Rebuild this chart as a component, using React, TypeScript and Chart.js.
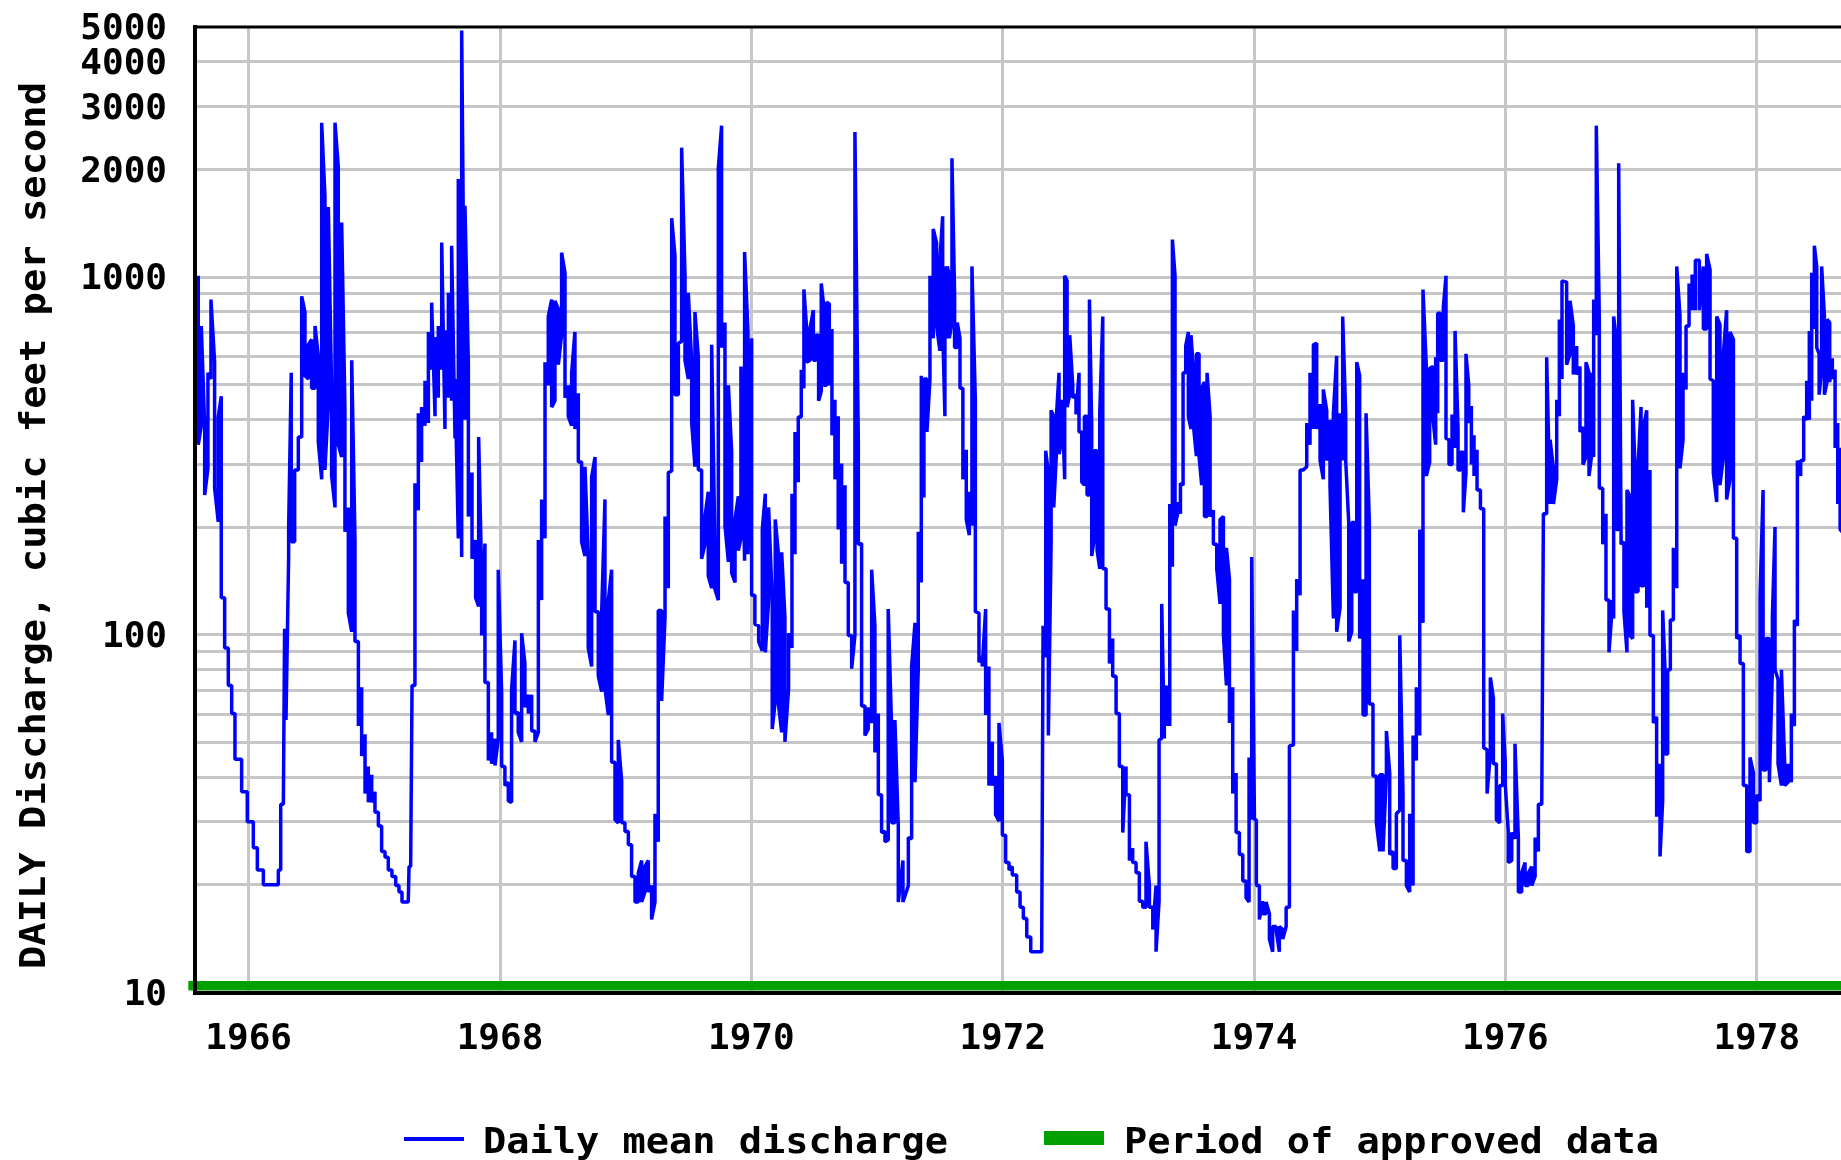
import React, { useEffect, useRef } from 'react';
import { Chart, registerables } from 'chart.js';

Chart.register(...registerables);

type Reading = [number, number]; // [decimal year, daily mean discharge in ft³/s]

const flow1965to1967: Reading[] = [
  [1965.599,1008],[1965.599,340],[1965.623,384],[1965.623,730],[1965.650,384],[1965.650,246],
  [1965.676,292],[1965.676,540],[1965.700,519],[1965.700,865],[1965.729,578],[1965.729,257],
  [1965.758,207],[1965.758,406],[1965.782,464],[1965.782,127],[1965.809,127],[1965.809,91.9],
  [1965.838,91.9],[1965.838,72.2],[1965.865,72.2],[1965.865,60.2],[1965.891,60.2],[1965.891,44.9],
  [1965.944,44.9],[1965.944,36.4],[1965.989,36.4],[1965.989,30.0],[1966.037,30.0],[1966.037,25.4],
  [1966.069,25.4],[1966.069,22.0],[1966.117,22.0],[1966.117,20.0],[1966.236,20.0],[1966.236,22.0],
  [1966.255,22.0],[1966.255,33.6],[1966.276,33.6],[1966.286,104],[1966.297,57.8],
  [1966.318,165],[1966.318,198],[1966.339,540],[1966.339,182],[1966.366,182],[1966.366,289],
  [1966.395,289],[1966.395,357],[1966.422,357],[1966.422,883],[1966.448,798],[1966.448,530],
  [1966.475,519],[1966.475,647],[1966.501,669],[1966.501,489],[1966.528,489],[1966.528,730],
  [1966.554,602],[1966.554,347],[1966.581,272],[1966.581,2700],[1966.607,1681],[1966.607,289],
  [1966.634,442],[1966.634,1570],[1966.660,485],[1966.660,278],[1966.687,227],[1966.687,2700],
  [1966.713,2040],[1966.713,340],[1966.740,314],[1966.740,1420],[1966.766,433],[1966.766,194],
  [1966.793,227],[1966.793,115],[1966.820,102],[1966.820,585],[1966.846,184],[1966.846,95.7],
  [1966.873,95.7],[1966.873,55.6],[1966.899,71.3],[1966.899,45.8],[1966.926,52.7],[1966.926,36.0],
  [1966.952,42.8],[1966.952,34.0],[1966.979,40.6],[1966.979,34.0],[1967.005,36.4],[1967.005,31.9],
  [1967.032,31.9],[1967.032,29.2],[1967.058,29.2],[1967.058,24.8],[1967.085,24.8],[1967.085,23.9],
  [1967.111,23.9],[1967.111,22.0],[1967.140,22.0],[1967.140,21.1],[1967.170,21.1],[1967.170,19.9],
  [1967.196,19.9],[1967.196,19.1],[1967.220,19.1],[1967.220,17.9],[1967.270,17.9],[1967.276,22.5],
  [1967.289,22.5],[1967.300,72.2],[1967.323,72.2],[1967.323,265],[1967.350,223],[1967.350,416],
  [1967.376,304],[1967.376,433],[1967.403,384],[1967.403,513],[1967.430,391],[1967.430,702],
  [1967.456,551],[1967.456,848],[1967.483,408],[1967.483,680],[1967.509,460],[1967.509,730],
  [1967.536,551],[1967.536,1248],[1967.562,376],[1967.562,710],[1967.589,460],[1967.589,904],
  [1967.615,451],[1967.615,1223],[1967.642,354],[1967.642,519],[1967.668,186],[1967.668,1880],
  [1967.695,165],[1967.695,4890],[1967.721,399],[1967.721,1582],
];

const flow1967to1969: Reading[] = [
  [1967.748,574],[1967.748,214],[1967.777,284],[1967.777,163],[1967.806,184],[1967.806,127],
  [1967.830,120],[1967.830,357],[1967.854,146],[1967.854,99.6],[1967.880,180],[1967.880,73.6],
  [1967.907,73.6],[1967.907,44.5],[1967.933,53.4],[1967.933,43.6],[1967.960,51.3],[1967.960,43.1],
  [1967.986,51.3],[1967.986,152],[1968.013,68.5],[1968.013,42.8],[1968.039,42.8],[1968.039,37.9],
  [1968.066,38.7],[1968.066,34.3],[1968.092,34.0],[1968.092,70.2],[1968.119,96.4],[1968.119,60.2],
  [1968.145,60.7],[1968.145,53.4],[1968.172,50.2],[1968.172,101],[1968.198,83.1],[1968.198,62.7],
  [1968.225,68.0],[1968.225,60.2],[1968.252,68.0],[1968.252,53.8],[1968.278,53.8],[1968.278,50.2],
  [1968.305,53.4],[1968.305,184],[1968.331,125],[1968.331,239],[1968.358,186],[1968.358,578],
  [1968.384,498],[1968.384,776],[1968.411,865],[1968.411,433],[1968.437,451],[1968.437,858],
  [1968.464,814],[1968.464,569],[1968.490,688],[1968.490,1170],[1968.517,1028],[1968.517,460],
  [1968.543,498],[1968.543,408],[1968.570,384],[1968.570,540],[1968.596,702],[1968.596,376],
  [1968.623,473],[1968.623,304],[1968.649,304],[1968.649,182],[1968.676,166],[1968.676,295],
  [1968.702,166],[1968.702,91.9],[1968.729,81.5],[1968.729,276],[1968.756,314],[1968.756,116],
  [1968.782,116],[1968.782,76.6],[1968.809,69.3],[1968.809,116],[1968.835,239],[1968.835,70.7],
  [1968.862,59.7],[1968.862,125],[1968.888,152],[1968.888,44.0],[1968.915,44.0],[1968.915,30.4],
  [1968.941,29.8],[1968.941,50.8],[1968.968,39.0],[1968.968,29.8],[1968.994,29.8],[1968.994,28.2],
  [1969.021,28.2],[1969.021,25.9],[1969.047,25.9],[1969.047,21.1],[1969.074,21.1],[1969.074,17.9],
  [1969.100,17.9],[1969.100,21.6],[1969.127,23.4],[1969.127,17.9],[1969.153,19.1],[1969.153,22.5],
  [1969.180,23.4],[1969.180,19.1],[1969.206,19.9],[1969.206,16.0],[1969.233,17.9],[1969.233,31.6],
  [1969.259,26.4],[1969.259,117],[1969.286,117],[1969.286,65.3],[1969.313,112],[1969.313,214],
  [1969.339,135],[1969.339,284],[1969.366,287],[1969.366,1460],[1969.392,1147],[1969.392,469],
  [1969.419,469],[1969.419,653],[1969.445,661],[1969.445,2300],[1969.472,1008],[1969.472,585],
  [1969.498,519],[1969.498,904],[1969.525,578],[1969.525,391],[1969.551,295],[1969.551,798],
  [1969.578,597],[1969.578,289],[1969.604,289],[1969.604,163],[1969.631,179],[1969.631,214],
  [1969.657,251],[1969.657,146],[1969.684,135],[1969.684,647],[1969.710,177],[1969.710,134],
  [1969.737,125],[1969.737,2015],[1969.763,2650],[1969.763,635],[1969.790,746],[1969.790,202],
  [1969.817,160],[1969.817,498],[1969.843,324],[1969.843,149],[1969.870,140],[1969.870,210],
  [1969.896,244],[1969.896,172],
];

const flow1969to1972: Reading[] = [
  [1969.917,186],[1969.917,562],[1969.946,161],[1969.946,1175],[1969.973,702],[1969.973,168],
  [1970.002,674],[1970.002,129],[1970.028,129],[1970.028,107],[1970.058,106],[1970.058,95.7],
  [1970.087,90.1],[1970.087,197],[1970.111,248],[1970.111,89.3],[1970.137,124],[1970.137,227],
  [1970.166,125],[1970.166,54.5],[1970.190,65.3],[1970.190,210],[1970.214,170],[1970.214,64.7],
  [1970.241,53.4],[1970.241,170],[1970.267,112],[1970.267,50.2],[1970.296,70.7],[1970.296,101],
  [1970.323,91.9],[1970.323,248],[1970.347,168],[1970.347,369],[1970.373,267],[1970.373,406],
  [1970.397,406],[1970.397,551],[1970.418,489],[1970.418,923],[1970.440,716],[1970.440,578],
  [1970.466,585],[1970.466,716],[1970.493,808],[1970.493,585],[1970.514,585],[1970.514,688],
  [1970.535,688],[1970.535,451],[1970.556,479],[1970.556,960],[1970.577,824],[1970.577,498],
  [1970.599,498],[1970.599,851],[1970.620,841],[1970.620,498],[1970.641,716],[1970.641,361],
  [1970.665,454],[1970.665,272],[1970.691,408],[1970.691,197],[1970.718,301],[1970.718,158],
  [1970.745,262],[1970.745,140],[1970.771,140],[1970.771,99.6],[1970.798,99.6],[1970.798,80.4],
  [1970.824,99.6],[1970.824,2545],[1970.851,343],[1970.851,179],[1970.877,180],[1970.877,63.2],
  [1970.904,63.2],[1970.904,52.3],[1970.930,54.5],[1970.930,62.7],[1970.957,56.7],[1970.957,152],
  [1970.983,106],[1970.983,46.9],[1971.010,60.2],[1971.010,35.7],[1971.036,35.7],[1971.036,28.0],
  [1971.063,28.2],[1971.063,26.4],[1971.089,26.7],[1971.089,118],[1971.116,54.5],[1971.116,29.8],
  [1971.142,29.8],[1971.142,57.8],[1971.169,29.2],[1971.169,17.9],[1971.206,23.4],[1971.206,17.9],
  [1971.249,19.9],[1971.249,27.1],[1971.275,26.9],[1971.275,81.5],[1971.302,108],[1971.302,38.7],
  [1971.328,80.4],[1971.328,194],[1971.352,140],[1971.352,530],[1971.373,242],[1971.373,519],
  [1971.397,519],[1971.397,369],[1971.421,519],[1971.421,1008],[1971.447,674],[1971.447,1363],
  [1971.474,1243],[1971.474,730],[1971.500,622],[1971.500,1115],[1971.522,1478],[1971.522,730],
  [1971.540,408],[1971.540,1071],[1971.559,674],[1971.559,1071],[1971.575,1008],[1971.575,674],
  [1971.596,746],[1971.596,2149],[1971.617,893],[1971.617,635],[1971.638,635],[1971.638,746],
  [1971.660,674],[1971.660,489],[1971.683,489],[1971.683,272],[1971.710,329],[1971.710,210],
  [1971.734,190],[1971.734,251],[1971.755,202],[1971.755,1071],[1971.782,454],[1971.782,116],
  [1971.811,115],[1971.811,83.8],[1971.837,87.2],[1971.837,81.5],[1971.864,118],[1971.864,59.7],
  [1971.890,81.5],[1971.890,37.9],[1971.917,50.2],[1971.917,37.9],[1971.943,40.3],[1971.943,31.4],
  [1971.970,30.1],[1971.970,56.7],[1971.997,44.5],[1971.997,27.5],[1972.023,27.5],[1972.023,23.1],
  [1972.050,23.1],[1972.050,22.0],[1972.076,22.5],[1972.076,21.3],
];

const flow1972to1974: Reading[] = [
  [1972.111,21.3],[1972.111,19.1],[1972.138,19.1],[1972.138,17.3],[1972.164,17.3],[1972.164,16.1],
  [1972.191,16.1],[1972.191,14.3],[1972.223,14.3],[1972.223,13.0],[1972.310,13.0],[1972.321,106],
  [1972.342,86.5],[1972.342,327],[1972.363,284],[1972.363,52.3],[1972.385,182],[1972.385,424],
  [1972.406,408],[1972.406,227],[1972.427,320],[1972.427,408],[1972.448,540],[1972.448,320],
  [1972.472,354],[1972.472,454],[1972.493,272],[1972.493,1008],[1972.512,976],[1972.512,433],
  [1972.533,469],[1972.533,688],[1972.557,498],[1972.557,460],[1972.583,469],[1972.583,413],
  [1972.607,540],[1972.607,369],[1972.629,369],[1972.629,267],[1972.650,262],[1972.650,408],
  [1972.671,408],[1972.671,246],[1972.690,246],[1972.690,865],[1972.708,384],[1972.708,166],
  [1972.729,187],[1972.729,327],[1972.751,327],[1972.751,172],[1972.772,153],[1972.772,419],
  [1972.796,776],[1972.796,153],[1972.822,153],[1972.822,118],[1972.849,118],[1972.849,83.1],
  [1972.875,97.6],[1972.875,76.6],[1972.902,76.6],[1972.902,60.2],[1972.928,60.2],[1972.928,42.8],
  [1972.955,42.8],[1972.955,28.0],[1972.981,42.8],[1972.981,35.7],[1973.008,35.7],[1973.008,23.4],
  [1973.034,25.3],[1973.034,23.1],[1973.061,23.1],[1973.061,21.6],[1973.087,21.6],[1973.087,18.0],
  [1973.114,18.0],[1973.114,17.3],[1973.140,17.3],[1973.140,26.4],[1973.167,19.9],[1973.167,17.3],
  [1973.194,17.3],[1973.194,15.0],[1973.220,19.9],[1973.220,13.0],[1973.244,18.0],[1973.244,50.8],
  [1973.265,51.3],[1973.265,122],[1973.286,51.3],[1973.286,72.2],[1973.307,55.6],[1973.307,72.2],
  [1973.329,55.6],[1973.329,232],[1973.350,155],[1973.350,1273],[1973.371,1008],[1973.371,202],
  [1973.392,218],[1973.392,235],[1973.414,218],[1973.414,265],[1973.435,262],[1973.435,540],
  [1973.456,540],[1973.456,642],[1973.477,702],[1973.477,408],[1973.498,376],[1973.498,688],
  [1973.520,530],[1973.520,376],[1973.541,316],[1973.541,610],[1973.562,610],[1973.562,316],
  [1973.583,262],[1973.583,489],[1973.605,509],[1973.605,214],[1973.626,214],[1973.626,540],
  [1973.650,408],[1973.650,214],[1973.676,223],[1973.676,179],[1973.703,179],[1973.703,153],
  [1973.729,122],[1973.729,210],[1973.756,214],[1973.756,99.6],[1973.780,72.2],[1973.780,175],
  [1973.804,143],[1973.804,56.7],[1973.830,71.3],[1973.830,36.0],[1973.857,41.1],[1973.857,28.0],
  [1973.883,28.0],[1973.883,24.3],[1973.910,24.3],[1973.910,20.5],[1973.936,20.5],[1973.936,18.4],
  [1973.960,17.9],[1973.960,45.4],[1973.981,30.4],[1973.981,165],[1974.003,30.4],
  [1974.018,30.4],[1974.018,19.9],[1974.042,19.9],[1974.042,16.0],[1974.069,18.0],[1974.069,16.6],
  [1974.095,16.6],[1974.095,17.9],[1974.122,16.6],[1974.122,14.1],[1974.148,13.0],[1974.148,15.3],
  [1974.175,15.3],[1974.175,15.0],[1974.201,13.0],[1974.201,15.3],[1974.228,15.0],[1974.228,14.1],
  [1974.255,15.3],[1974.255,17.3],[1974.281,17.3],[1974.281,48.9],
];

const flow1974to1976: Reading[] = [
  [1974.313,49.2],[1974.313,117],[1974.339,90.1],[1974.339,143],[1974.366,129],[1974.366,289],
  [1974.392,289],[1974.419,295],[1974.419,391],[1974.445,340],[1974.445,540],[1974.472,376],
  [1974.472,647],[1974.498,653],[1974.498,376],[1974.525,442],[1974.525,307],[1974.551,272],
  [1974.551,485],[1974.578,424],[1974.578,307],[1974.604,399],[1974.604,262],[1974.631,111],
  [1974.631,416],[1974.657,602],[1974.657,102],[1974.684,119],[1974.684,416],[1974.705,307],
  [1974.705,776],[1974.729,413],[1974.729,307],[1974.753,206],[1974.753,95.7],[1974.777,102],
  [1974.777,206],[1974.798,206],[1974.798,132],[1974.817,132],[1974.817,578],[1974.840,530],
  [1974.840,97.6],[1974.867,143],[1974.867,59.7],[1974.891,59.7],[1974.891,416],[1974.917,206],
  [1974.917,64.0],[1974.946,64.0],[1974.946,40.3],[1974.973,40.3],[1974.973,29.8],[1975.000,24.8],
  [1975.000,40.6],[1975.026,40.6],[1975.026,24.8],[1975.053,41.1],[1975.053,53.8],[1975.079,41.1],
  [1975.079,24.3],[1975.106,24.8],[1975.106,22.2],[1975.132,22.2],[1975.132,31.6],[1975.159,32.3],
  [1975.159,99.6],[1975.185,35.7],[1975.185,23.4],[1975.212,23.4],[1975.212,19.9],[1975.238,19.1],
  [1975.238,31.6],[1975.265,19.9],[1975.265,52.3],[1975.291,44.5],[1975.291,71.3],[1975.318,52.3],
  [1975.318,197],[1975.344,108],[1975.344,923],[1975.371,556],[1975.371,278],[1975.397,304],
  [1975.397,556],[1975.424,562],[1975.424,399],[1975.445,340],[1975.445,597],[1975.461,416],
  [1975.461,792],[1975.482,792],[1975.482,585],[1975.506,585],[1975.506,824],[1975.527,1008],
  [1975.527,354],[1975.551,351],[1975.551,299],[1975.575,299],[1975.575,413],[1975.599,333],
  [1975.599,707],[1975.623,376],[1975.623,289],[1975.644,289],[1975.644,324],[1975.665,324],
  [1975.665,220],[1975.686,284],[1975.686,610],[1975.708,498],[1975.708,391],[1975.729,436],
  [1975.729,299],[1975.750,361],[1975.750,278],[1975.774,329],[1975.774,254],[1975.801,254],
  [1975.801,225],[1975.827,225],[1975.827,48.3],[1975.854,47.7],[1975.854,36.0],[1975.880,46.4],
  [1975.880,76.0],[1975.904,66.6],[1975.904,43.6],[1975.928,43.6],[1975.928,30.4],[1975.954,29.8],
  [1975.954,37.9],[1975.978,37.9],[1975.978,60.2],[1975.999,43.6],[1975.999,37.9],[1976.023,28.0],
  [1976.023,23.1],[1976.050,23.4],[1976.050,28.0],[1976.076,26.9],[1976.076,49.6],[1976.103,26.9],
  [1976.103,19.1],[1976.129,19.1],[1976.129,21.6],[1976.156,23.1],[1976.156,19.9],[1976.183,19.9],
  [1976.183,21.6],[1976.209,22.5],[1976.209,19.9],[1976.236,21.1],[1976.236,27.1],[1976.262,24.8],
  [1976.262,33.6],[1976.289,33.6],[1976.302,218],[1976.328,218],[1976.328,597],[1976.355,232],
  [1976.355,351],[1976.382,292],[1976.382,232],[1976.408,272],[1976.408,454],[1976.429,408],
  [1976.429,761],[1976.450,519],[1976.450,976],
];

const flow1976to1978: Reading[] = [
  [1976.487,968],[1976.487,569],[1976.514,610],[1976.514,858],[1976.540,730],[1976.540,534],
  [1976.567,642],[1976.567,534],[1976.593,562],[1976.593,369],[1976.617,381],[1976.617,299],
  [1976.641,314],[1976.641,578],[1976.665,540],[1976.665,278],[1976.684,314],[1976.684,540],
  [1976.702,314],[1976.702,865],[1976.723,688],[1976.723,2650],[1976.747,761],[1976.747,257],
  [1976.774,257],[1976.774,179],[1976.800,218],[1976.800,125],[1976.824,125],[1976.824,89.3],
  [1976.843,111],[1976.843,125],[1976.861,111],[1976.861,776],[1976.882,669],[1976.882,197],
  [1976.901,197],[1976.901,2081],[1976.920,190],[1976.920,179],[1976.943,182],[1976.943,116],
  [1976.967,89.3],[1976.967,254],[1976.991,244],[1976.991,99.6],[1977.012,97.6],[1977.012,454],
  [1977.031,295],[1977.031,132],[1977.055,132],[1977.055,295],[1977.079,433],[1977.079,137],
  [1977.100,137],[1977.100,384],[1977.124,424],[1977.124,119],[1977.150,289],[1977.150,99.6],
  [1977.177,99.6],[1977.177,56.7],[1977.203,59.0],[1977.203,31.0],[1977.230,43.6],[1977.230,24.0],
  [1977.251,34.3],[1977.251,117],[1977.270,79.8],[1977.270,46.4],[1977.291,46.4],[1977.291,79.8],
  [1977.312,79.8],[1977.312,110],[1977.336,110],[1977.336,175],[1977.363,135],[1977.363,1071],
  [1977.389,776],[1977.389,292],[1977.413,351],[1977.413,540],[1977.437,485],[1977.437,730],
  [1977.461,730],[1977.461,960],[1977.485,808],[1977.485,1016],[1977.511,808],[1977.511,1115],
  [1977.543,1115],[1977.543,808],[1977.575,1071],[1977.575,716],[1977.601,716],[1977.601,1160],
  [1977.628,1049],[1977.628,519],[1977.654,513],[1977.654,284],[1977.681,235],[1977.681,776],
  [1977.707,736],[1977.707,262],[1977.734,314],[1977.734,610],[1977.760,808],[1977.760,239],
  [1977.787,272],[1977.787,702],[1977.814,669],[1977.814,186],[1977.840,186],[1977.840,97.6],
  [1977.867,99.6],[1977.867,83.1],[1977.893,83.1],[1977.893,37.9],[1977.920,37.9],[1977.920,24.8],
  [1977.946,24.8],[1977.946,45.4],[1977.973,41.1],[1977.973,29.8],[1977.999,29.8],[1977.999,35.7],
  [1978.026,34.3],[1978.026,129],[1978.050,254],[1978.050,41.9],[1978.073,41.9],[1978.073,97.6],
  [1978.100,97.6],[1978.100,38.7],[1978.124,79.8],[1978.124,112],[1978.145,200],[1978.145,79.8],
  [1978.169,75.1],[1978.169,43.6],[1978.196,37.9],[1978.196,79.8],[1978.222,43.6],[1978.222,37.9],
  [1978.249,38.7],[1978.249,43.6],[1978.275,38.7],[1978.275,60.2],[1978.299,55.6],[1978.299,110],
  [1978.323,106],[1978.323,307],[1978.349,278],[1978.349,307],[1978.373,307],[1978.373,408],
  [1978.397,399],[1978.397,513],[1978.418,399],[1978.418,707],[1978.437,451],[1978.437,1028],
  [1978.458,716],[1978.458,1223],[1978.477,1071],[1978.477,635],[1978.496,610],[1978.496,469],
  [1978.516,551],[1978.516,1071],[1978.538,776],[1978.538,469],[1978.559,509],[1978.559,761],
  [1978.580,746],[1978.580,509],[1978.601,593],[1978.601,519],[1978.623,551],[1978.623,333],
  [1978.644,391],[1978.644,232],[1978.663,333],[1978.663,197],[1978.700,190],
];

const yearTicks = [1966, 1968, 1970, 1972, 1974, 1976, 1978];
const dischargeGridValues = [
  10, 20, 30, 40, 50, 60, 70, 80, 90,
  100, 200, 300, 400, 500, 600, 700, 800, 900,
  1000, 2000, 3000, 4000, 5000,
];
const labeledDischarge = [10, 100, 1000, 2000, 3000, 4000, 5000];
const approvedPeriod: [number, number] = [1965.52, 1978.8];
const xRange: [number, number] = [1965.573, 1978.67];
const yRange: [number, number] = [10, 5000];

const seriesLabel = 'Daily mean discharge';
const approvedLabel = 'Period of approved data';
const yTitle = 'DAILY Discharge, cubic feet per second';

const FONT = "'DejaVu Sans Mono', 'Liberation Mono', monospace";
const GRID = '#c6c6c6';
const BLUE = '#0000ff';
const GREEN = '#00a000';

function drawFitted(ctx: CanvasRenderingContext2D, text: string, x: number, y: number, width: number) {
  const w = ctx.measureText(text).width;
  ctx.save();
  ctx.translate(x, y);
  ctx.scale(width / w, 1);
  ctx.fillText(text, 0, 0);
  ctx.restore();
}

function clearScalePadding(s: any) {
  s.paddingTop = 0;
  s.paddingBottom = 0;
  s.paddingLeft = 0;
  s.paddingRight = 0;
}

const decorations = {
  id: 'usgsDecorations',
  beforeDatasetsDraw(chart: any) {
    const { ctx, chartArea, scales } = chart;
    const x0 = scales.x.getPixelForValue(approvedPeriod[0]);
    const x1 = Math.min(scales.x.getPixelForValue(approvedPeriod[1]), chart.width);
    ctx.save();
    ctx.fillStyle = GREEN;
    ctx.fillRect(x0, chartArea.bottom - 11.5, x1 - x0, 9.5);
    ctx.restore();
  },
  afterDraw(chart: any) {
    const { ctx, chartArea } = chart;
    ctx.save();
    ctx.fillStyle = '#000';
    ctx.fillRect(chartArea.left - 2, chartArea.top - 1.5, chart.width - chartArea.left + 2, 3);

    ctx.font = `bold 36px ${FONT}`;
    ctx.textAlign = 'left';
    ctx.textBaseline = 'alphabetic';
    ctx.save();
    ctx.translate(45, 969);
    ctx.rotate(-Math.PI / 2);
    drawFitted(ctx, yTitle, 0, 0, 887);
    ctx.restore();

    ctx.strokeStyle = BLUE;
    ctx.lineWidth = 4;
    ctx.beginPath();
    ctx.moveTo(404, 1139);
    ctx.lineTo(464, 1139);
    ctx.stroke();
    ctx.fillStyle = '#000';
    drawFitted(ctx, seriesLabel, 483, 1153, 465);
    ctx.fillStyle = GREEN;
    ctx.fillRect(1044, 1131, 60, 14);
    ctx.fillStyle = '#000';
    drawFitted(ctx, approvedLabel, 1124, 1153, 535);
    ctx.restore();
  },
};

export default function App() {
  const ref = useRef<HTMLCanvasElement>(null);

  useEffect(() => {
    const canvas = ref.current;
    if (!canvas) return;
    const readings = [
      ...flow1965to1967,
      ...flow1967to1969,
      ...flow1969to1972,
      ...flow1972to1974,
      ...flow1974to1976,
      ...flow1976to1978,
    ];
    const tickFont = { family: FONT, size: 36, weight: 'bold' as const };
    const chart = new Chart(canvas, {
      type: 'line',
      data: {
        datasets: [
          {
            label: seriesLabel,
            data: readings.map(([x, y]) => ({ x, y })),
            borderColor: BLUE,
            borderWidth: 3.5,
            pointRadius: 0,
            tension: 0,
            fill: false,
            borderJoinStyle: 'bevel',
            borderCapStyle: 'butt',
          },
        ],
      },
      options: {
        responsive: false,
        animation: false,
        devicePixelRatio: 1,
        layout: { padding: { top: 27, left: 0, right: 0, bottom: 0 } },
        plugins: {
          legend: { display: false },
          tooltip: { enabled: false },
          title: { display: false },
        },
        scales: {
          x: {
            type: 'linear',
            min: xRange[0],
            max: xRange[1],
            bounds: 'data',
            afterBuildTicks: (s: any) => {
              s.ticks = yearTicks.map((v) => ({ value: v }));
            },
            afterFit: (s: any) => {
              s.height = 167.5;
              clearScalePadding(s);
            },
            grid: { color: GRID, lineWidth: 3, drawTicks: false },
            border: { color: '#000', width: 4, z: 1 },
            ticks: {
              autoSkip: false,
              maxRotation: 0,
              padding: 26,
              color: '#000',
              font: tickFont,
              callback: (v: any) => String(v),
            },
          },
          y: {
            type: 'logarithmic',
            min: yRange[0],
            max: yRange[1],
            bounds: 'data',
            afterBuildTicks: (s: any) => {
              s.ticks = dischargeGridValues.map((v) => ({ value: v }));
            },
            afterFit: (s: any) => {
              s.width = 195;
              clearScalePadding(s);
            },
            grid: {
              color: (c: any) =>
                c.tick && (c.tick.value === yRange[0] || c.tick.value === yRange[1]) ? 'rgba(0,0,0,0)' : GRID,
              lineWidth: 3,
              drawTicks: false,
            },
            border: { color: '#000', width: 4, z: 1 },
            ticks: {
              autoSkip: false,
              padding: 28,
              labelOffset: 3,
              color: '#000',
              font: tickFont,
              callback: (v: any) => (labeledDischarge.includes(Number(v)) ? String(v) : ''),
            },
          },
        },
      },
      plugins: [decorations],
    } as any);
    return () => chart.destroy();
  }, []);

  return (
    <div style={{ position: 'absolute', left: 0, top: 0, width: 1841, height: 1160, background: '#fff' }}>
      <canvas ref={ref} width={1841} height={1160} style={{ display: 'block', width: 1841, height: 1160 }} />
    </div>
  );
}
